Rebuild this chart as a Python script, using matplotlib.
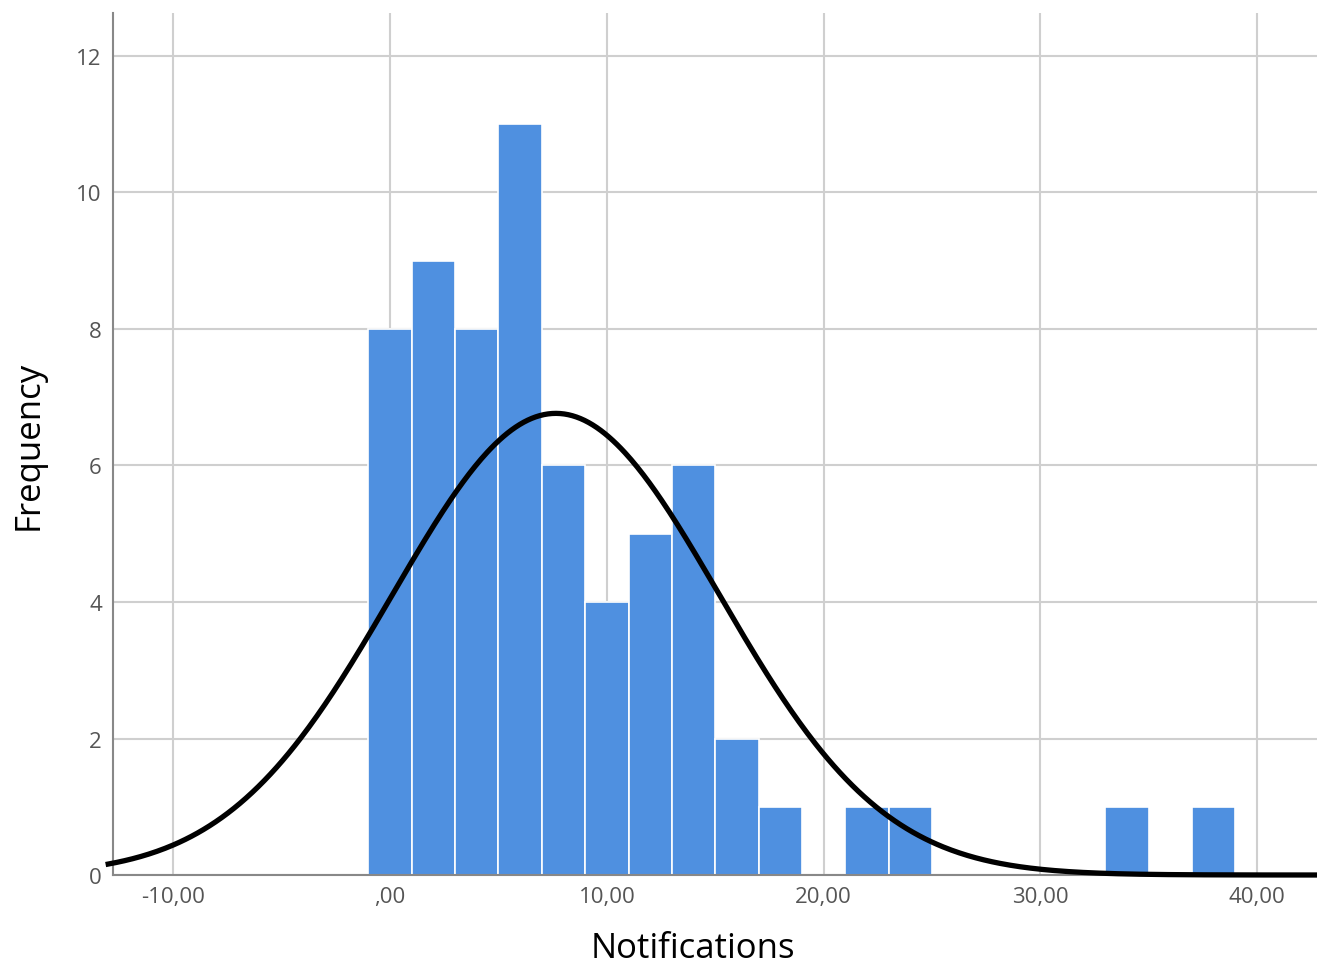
import numpy as np
import matplotlib.pyplot as plt

# histogram of notifications, bins of width 2 starting at -1
bin_edges = [-1, 1, 3, 5, 7, 9, 11, 13, 15, 17, 19, 21, 23, 25, 27, 29, 31, 33, 35, 37, 39]
counts = [8, 9, 8, 11, 6, 4, 5, 6, 2, 1, 0, 1, 1, 0, 0, 0, 0, 1, 0, 1]

# fitted normal curve
curve_mean = 7.65
curve_sd = 7.55

x_ticks = [-10, 0, 10, 20, 30, 40]
x_tick_labels = ["-10,00", ",00", "10,00", "20,00", "30,00", "40,00"]
y_ticks = [0, 2, 4, 6, 8, 10, 12]


def main():
    plt.rcParams["font.family"] = ["Open Sans", "DejaVu Sans"]
    fig = plt.figure(figsize=(13.17, 9.70), dpi=100)
    ax = fig.add_axes([0.0858, 0.0969, 0.9142, 0.8887])

    edges = np.array(bin_edges, dtype=float)
    ax.bar(edges[:-1], counts, width=np.diff(edges), align="edge",
           color="#4f90e0", edgecolor="white", linewidth=1.2, zorder=2)

    n = sum(counts)
    width = edges[1] - edges[0]
    xs = np.linspace(-13, 43, 600)
    ys = n * width / (curve_sd * np.sqrt(2 * np.pi)) * np.exp(-(xs - curve_mean) ** 2 / (2 * curve_sd ** 2))
    ax.plot(xs, ys, color="black", linewidth=3.8, zorder=3, clip_on=False)

    ax.set_xlim(-12.78, 42.76)
    ax.set_ylim(0, 12.63)
    ax.set_xticks(x_ticks)
    ax.set_xticklabels(x_tick_labels)
    ax.set_yticks(y_ticks)
    ax.grid(True, color="#cfcfcf", linewidth=1.5, zorder=0)
    ax.set_axisbelow(True)
    ax.tick_params(length=0, labelsize=16, labelcolor="#555555", pad=8)

    for side in ["top", "right"]:
        ax.spines[side].set_visible(False)
    for side in ["left", "bottom"]:
        ax.spines[side].set_color("#888888")
        ax.spines[side].set_linewidth(1.5)

    ax.set_xlabel("Notifications", fontsize=25)
    ax.xaxis.set_label_coords(0.482, -0.065, transform=ax.transAxes)
    ax.xaxis.label.set_va("top")
    ax.set_ylabel("Frequency", fontsize=25, labelpad=22)

    fig.savefig("out.png", dpi=100)


main()
